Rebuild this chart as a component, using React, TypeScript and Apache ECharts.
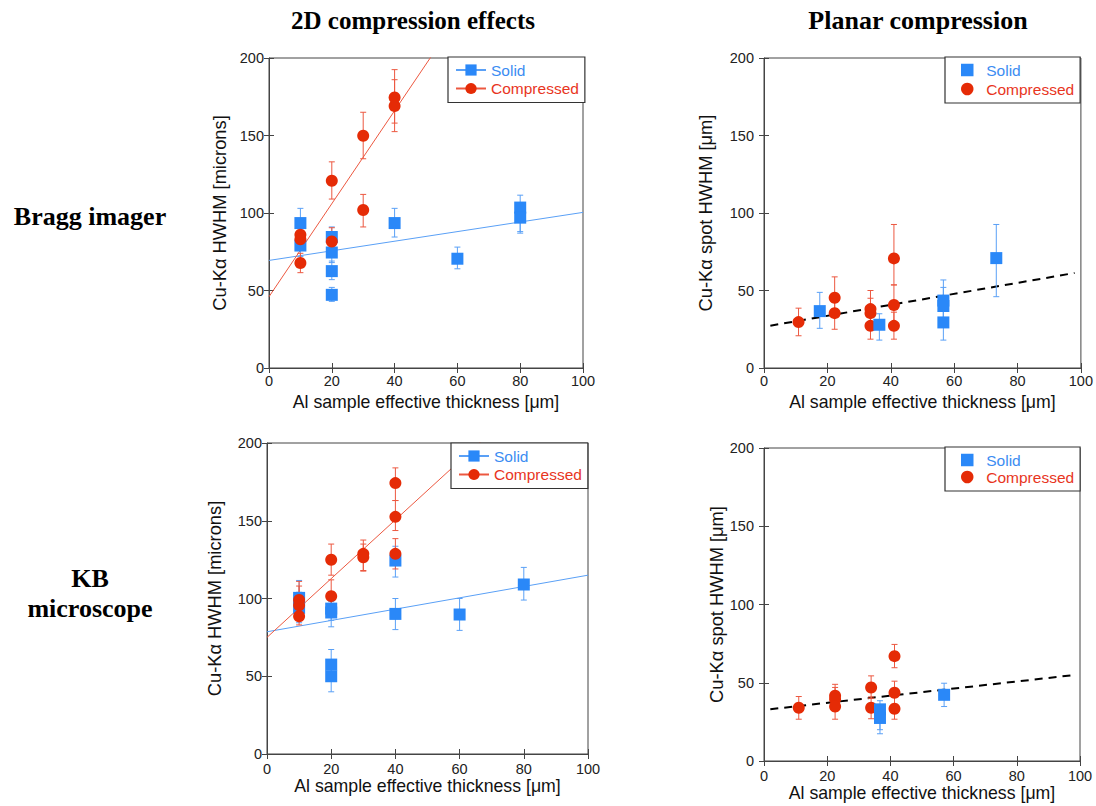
import React, { useEffect, useRef } from 'react';
import * as echarts from 'echarts';

// ---------- data: [thickness, HWHM, errLow, errHigh] ----------
const braggSolid2D = [
  [10, 93.5, 84, 103], [10, 79, 72, 86], [20, 84.5, 78, 91], [20, 74.5, 68, 80],
  [20, 62.5, 57, 69], [20, 47.2, 43, 52], [40, 93.5, 84.5, 103], [60, 70.5, 64, 78],
  [80, 103.5, 87, 111.5], [80, 97, 88, 106],
];
const braggComp2D = [
  [10, 86, 80, 90], [10, 83, 78, 88], [10, 67.7, 61.5, 74], [20, 120.8, 109, 133],
  [20, 81.6, 76, 90.5], [30, 149.8, 135, 165], [30, 101.9, 91, 112],
  [40, 174.5, 158, 192.5], [40, 169, 152.5, 186],
];
const braggSolidPlanar = [
  [17.6, 36.7, 25.6, 48.8], [36.4, 27.9, 18, 35], [56.6, 43.5, 30, 56.8],
  [56.6, 40, 28, 52], [56.6, 29.4, 18, 40], [73.3, 70.9, 46, 92.6],
];
const braggCompPlanar = [
  [10.9, 29.6, 20.8, 38.6], [22.3, 45.3, 35, 58.8], [22.3, 35.4, 25, 45],
  [33.6, 38, 28, 50], [33.6, 35.4, 25, 45], [33.6, 27.2, 18.6, 35],
  [41, 70.7, 53.6, 92.6], [41, 40.6, 27, 53.6], [41, 27.2, 18.6, 36],
];
const kbSolid2D = [
  [10, 100.4, 90, 111.6], [10, 94, 84.4, 104], [20, 93.5, 86, 100], [20, 91, 81.8, 98],
  [20, 57.5, 50, 67.2], [20, 50, 40, 57], [40, 124.4, 113.8, 133.6], [40, 90.1, 80, 100],
  [60, 89.7, 79.5, 100], [80, 109, 99, 120],
];
const kbComp2D = [
  [10, 99, 90, 108], [10, 95.7, 88, 111], [10, 88.6, 83, 95], [20, 124.9, 115, 135],
  [20, 101.5, 91, 112], [30, 128.7, 117.6, 137.6], [30, 126.5, 118, 135],
  [40, 174.2, 163, 184], [40, 152.5, 143.7, 163], [40, 128.7, 119, 138.5],
];
const kbSolidPlanar = [
  [36.7, 33, 17.4, 38.5], [36.7, 27.5, 20, 35], [57, 42.3, 34.8, 49.7],
];
const kbCompPlanar = [
  [11, 34, 26.7, 41.2], [22.5, 41.7, 34, 49], [22.5, 39.5, 32, 47], [22.5, 34.8, 26.7, 42],
  [33.9, 47, 40, 54.4], [33.9, 34, 27, 41], [41.3, 67, 59.6, 74.5],
  [41.3, 43.6, 36, 51], [41.3, 33.4, 26.7, 41],
];

// fit lines
const braggSolidFit = [[0, 69.4], [100, 100.4]];
const braggCompFit = [[0, 46], [100, 346]];
const braggPlanarFit = [[2, 27.3], [98, 61.3]];
const kbSolidFit = [[0, 78.6], [100, 115]];
const kbCompFit = [[0, 75], [100, 264]];
const kbPlanarFit = [[2, 33.1], [98, 54.9]];

const xTickInterval = 20;
const yTickInterval = 50;
const columnTitles = ['2D compression effects', 'Planar compression'];
const rowTitles = ['Bragg imager', 'KB\nmicroscope'];
const xName = 'Al sample effective thickness [μm]';
const yName2D = 'Cu-Kα HWHM [microns]';
const yNamePlanar = 'Cu-Kα spot HWHM [μm]';

const BLUE = '#2a88f8';
const RED = '#e52b06';
const BLUE_LINE = '#5aa0f6';
const RED_LINE = '#ec5840';
const BLUE_TXT = '#3b8cf2';
const RED_TXT = '#e8351e';
const SANS = 'Liberation Sans, Arial, sans-serif';
const SERIF = 'Liberation Serif, Times New Roman, serif';
const SQUARE_ICON = 'path://M0,0L10,0L10,10L0,10Z';

type Panel = {
  grid: { left: number; top: number; width: number; height: number };
  solid: number[][];
  comp: number[][];
  planar: boolean;
  fits: number[][][];
  yName: string;
  yNameGap: number;
  yLabelMargin: number;
  xNameGap: number;
  xLabelMargin: number;
  legend: any;
};

const panels: Panel[] = [
  {
    grid: { left: 269, top: 58, width: 314, height: 310 },
    solid: braggSolid2D, comp: braggComp2D, planar: false,
    fits: [braggSolidFit, braggCompFit], yName: yName2D, yNameGap: 41, yLabelMargin: 5,
    xNameGap: 25, xLabelMargin: 5,
    legend: { left: 448, top: 57, itemGap: 2.5 },
  },
  {
    grid: { left: 764, top: 58, width: 317, height: 310 },
    solid: braggSolidPlanar, comp: braggCompPlanar, planar: true,
    fits: [braggPlanarFit], yName: yNamePlanar, yNameGap: 50, yLabelMargin: 10,
    xNameGap: 25, xLabelMargin: 5,
    legend: { left: 945, top: 57, itemGap: 3 },
  },
  {
    grid: { left: 267, top: 443, width: 321, height: 311 },
    solid: kbSolid2D, comp: kbComp2D, planar: false,
    fits: [kbSolidFit, kbCompFit], yName: yName2D, yNameGap: 44, yLabelMargin: 5,
    xNameGap: 23, xLabelMargin: 7,
    legend: { left: 451, top: 443, itemGap: 2.5 },
  },
  {
    grid: { left: 764, top: 448, width: 316, height: 313 },
    solid: kbSolidPlanar, comp: kbCompPlanar, planar: true,
    fits: [kbPlanarFit], yName: yNamePlanar, yNameGap: 39, yLabelMargin: 10,
    xNameGap: 22, xLabelMargin: 7,
    legend: { left: 945, top: 447, itemGap: 1 },
  },
];

function errorBarSeries(data: number[][], color: string, axisIdx: number) {
  return {
    type: 'custom',
    xAxisIndex: axisIdx,
    yAxisIndex: axisIdx,
    silent: true,
    z: 2,
    data: data.map((d) => [d[0], d[2], d[3]]),
    encode: { x: 0, y: [1, 2] },
    renderItem: (params: any, api: any) => {
      const x = api.value(0);
      const top = api.coord([x, api.value(2)]);
      const bot = api.coord([x, api.value(1)]);
      const w = 3;
      const style = { stroke: color, lineWidth: 1 };
      return {
        type: 'group',
        children: [
          { type: 'line', shape: { x1: top[0], y1: top[1], x2: bot[0], y2: bot[1] }, style },
          { type: 'line', shape: { x1: top[0] - w, y1: top[1], x2: top[0] + w, y2: top[1] }, style },
          { type: 'line', shape: { x1: bot[0] - w, y1: bot[1], x2: bot[0] + w, y2: bot[1] }, style },
        ],
      };
    },
  };
}

function buildOption() {
  const grid: any[] = [];
  const xAxis: any[] = [];
  const yAxis: any[] = [];
  const series: any[] = [];
  const legend: any[] = [];

  panels.forEach((p, i) => {
    grid.push({ ...p.grid, show: true, borderColor: '#444', borderWidth: 1, backgroundColor: 'transparent' });
    const main = 2 * i;
    const common = { type: 'value', gridIndex: i, splitLine: { show: false } };
    xAxis.push({
      ...common, position: 'bottom', min: 0, max: 100, interval: xTickInterval,
      axisLine: { show: true, lineStyle: { color: '#444' } },
      axisTick: { show: true, inside: true, length: 5, lineStyle: { color: '#444' } },
      axisLabel: { color: '#222', fontFamily: SANS, fontSize: 14.5, margin: p.xLabelMargin },
      name: xName, nameLocation: 'middle', nameGap: p.xNameGap,
      nameTextStyle: { color: '#111', fontFamily: SANS, fontSize: 17.7 },
    });
    xAxis.push({
      ...common, position: 'top', min: 0, max: 100, interval: xTickInterval,
      axisLine: { show: false },
      axisTick: { show: true, inside: true, length: 5, lineStyle: { color: '#444' } },
      axisLabel: { show: false },
    });
    yAxis.push({
      ...common, position: 'left', min: 0, max: 200, interval: yTickInterval,
      axisLine: { show: true, lineStyle: { color: '#444' } },
      axisTick: { show: true, inside: true, length: 5, lineStyle: { color: '#444' } },
      axisLabel: { color: '#222', fontFamily: SANS, fontSize: 14.5, margin: p.yLabelMargin },
      name: p.yName, nameLocation: 'middle', nameGap: p.yNameGap, nameRotate: 90,
      nameTextStyle: { color: '#111', fontFamily: SANS, fontSize: 18.3 },
    });
    yAxis.push({
      ...common, position: 'right', min: 0, max: 200, interval: yTickInterval,
      axisLine: { show: false },
      axisTick: { show: true, inside: true, length: 5, lineStyle: { color: '#444' } },
      axisLabel: { show: false },
    });

    // fit lines
    if (!p.planar) {
      series.push({
        type: 'line', name: 'Solid', xAxisIndex: main, yAxisIndex: main, data: p.fits[0],
        showSymbol: false, symbol: 'rect', symbolSize: 12, silent: true, z: 1,
        itemStyle: { color: BLUE }, lineStyle: { color: BLUE_LINE, width: 1 }, clip: true,
      });
      series.push({
        type: 'line', name: 'Compressed', xAxisIndex: main, yAxisIndex: main, data: p.fits[1],
        showSymbol: false, symbol: 'circle', symbolSize: 12, silent: true, z: 1,
        itemStyle: { color: RED }, lineStyle: { color: RED_LINE, width: 1 }, clip: true,
      });
    } else {
      series.push({
        type: 'line', name: 'fit', xAxisIndex: main, yAxisIndex: main, data: p.fits[0],
        showSymbol: false, silent: true, z: 1,
        lineStyle: { color: '#000', width: 2, type: [8, 6] }, clip: true,
      });
    }

    const solidErr = errorBarSeries(p.solid, BLUE_LINE, main);
    const compErr = errorBarSeries(p.comp, RED_LINE, main);
    const solidPts = {
      type: 'scatter', name: 'Solid', xAxisIndex: main, yAxisIndex: main, symbol: 'rect',
      symbolSize: 12, itemStyle: { color: BLUE, opacity: 1 }, z: 3,
      data: p.solid.map((d) => [d[0], d[1]]),
    };
    const compPts = {
      type: 'scatter', name: 'Compressed', xAxisIndex: main, yAxisIndex: main, symbol: 'circle',
      symbolSize: 12, itemStyle: { color: RED, opacity: 1 }, z: 3,
      data: p.comp.map((d) => [d[0], d[1]]),
    };
    if (!p.planar) {
      series.push(solidErr, compErr, solidPts, compPts);
    } else {
      series.push(compErr, compPts, solidErr, { ...solidPts, z: 4 });
    }

    const legendBase = {
      ...p.legend, orient: 'vertical', selectedMode: false,
      backgroundColor: '#fff', borderColor: '#333', borderWidth: 1.2, borderRadius: 0,
      textStyle: { fontFamily: SANS, fontSize: 15.5, lineHeight: 16 },
      symbolKeepAspect: true,
      z: 10,
    };
    if (!p.planar) {
      legend.push({
        ...legendBase, padding: [5, 6, 6, 7], itemWidth: 30, itemHeight: 14,
        data: [
          { name: 'Solid', textStyle: { color: BLUE_TXT } },
          { name: 'Compressed', textStyle: { color: RED_TXT } },
        ],
      });
    } else {
      legend.push({
        ...legendBase, padding: [5, 6, 6, 16], itemWidth: 28, itemHeight: 12.5,
        data: [
          { name: 'Solid', icon: SQUARE_ICON, itemStyle: { color: BLUE }, textStyle: { color: BLUE_TXT } },
          { name: 'Compressed', icon: 'circle', itemStyle: { color: RED }, textStyle: { color: RED_TXT } },
        ],
      });
    }
  });

  const graphic: any[] = [
    {
      type: 'text', x: 413, y: 20,
      style: { text: columnTitles[0], font: `bold 25px ${SERIF}`, fill: '#000', align: 'center', verticalAlign: 'middle' },
    },
    {
      type: 'text', x: 918, y: 20,
      style: { text: columnTitles[1], font: `bold 26px ${SERIF}`, fill: '#000', align: 'center', verticalAlign: 'middle' },
    },
    {
      type: 'text', x: 90, y: 216,
      style: { text: rowTitles[0], font: `bold 26px ${SERIF}`, fill: '#000', align: 'center', verticalAlign: 'middle' },
    },
    {
      type: 'text', x: 90, y: 593,
      style: { text: rowTitles[1], font: `bold 26px ${SERIF}`, lineHeight: 30, fill: '#000', align: 'center', verticalAlign: 'middle' },
    },
  ];

  return { animation: false, backgroundColor: '#fff', grid, xAxis, yAxis, series, legend, graphic };
}

export default function App() {
  const ref = useRef<HTMLDivElement>(null);
  useEffect(() => {
    if (!ref.current) return;
    const chart = echarts.init(ref.current, null, { renderer: 'svg' });
    chart.setOption(buildOption() as any);
    return () => chart.dispose();
  }, []);
  return (
    <div
      ref={ref}
      style={{ position: 'absolute', left: 0, top: 0, width: 1096, height: 806, background: '#fff' }}
    />
  );
}
